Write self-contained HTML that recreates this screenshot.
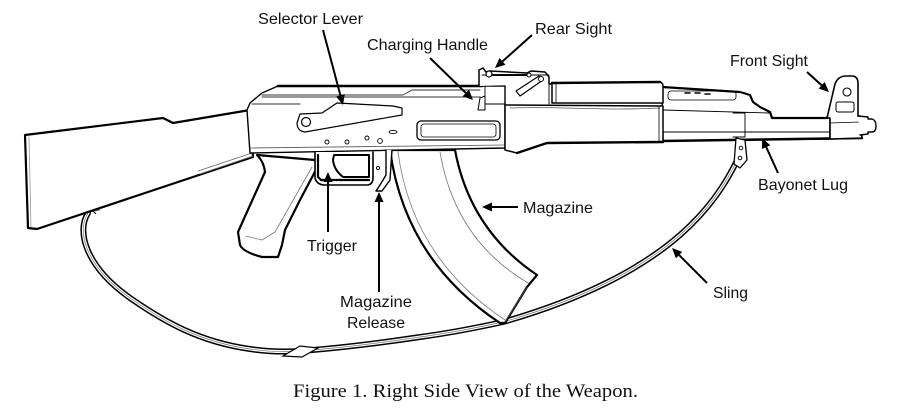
<!DOCTYPE html>
<html><head><meta charset="utf-8"><style>
html,body{margin:0;padding:0;background:#fff;}
svg{display:block;}
text{font-family:"Liberation Sans",Arial,sans-serif;font-size:16px;fill:#111;}
.cap{font-family:"Liberation Serif","Times New Roman",serif;font-size:19px;fill:#111;}
</style></head><body>
<svg width="900" height="420" viewBox="0 0 900 420" xmlns="http://www.w3.org/2000/svg">
<rect width="900" height="420" fill="#fff"/>

<!-- Sling -->
<g fill="none" stroke-linecap="round" stroke-linejoin="round">
<path d="M88,213 C76,232 86,268 133,300 C165,322 200,342 250,349 C270,352 285,352 300,351 C340,348 380,343 420,337 C450,333 480,327 503,322 C580,300 640,270 680,235 C705,213 725,188 742,150 L741,142" stroke="#000" stroke-width="6"/>
<path d="M88,213 C76,232 86,268 133,300 C165,322 200,342 250,349 C270,352 285,352 300,351 C340,348 380,343 420,337 C450,333 480,327 503,322 C580,300 640,270 680,235 C705,213 725,188 742,150 L741,142" stroke="#fff" stroke-width="3"/>
<path d="M88,213 C76,232 86,268 133,300 C165,322 200,342 250,349 C270,352 285,352 300,351 C340,348 380,343 420,337 C450,333 480,327 503,322 C580,300 640,270 680,235 C705,213 725,188 742,150" stroke="#777" stroke-width="0.7"/>
</g>
<path d="M283,356 L300,346 L318,348 L302,357 Z" fill="#fff" stroke="#000" stroke-width="1.2"/>
<path d="M68,214 L100,210" stroke="#888" stroke-width="1.5"/>
<path d="M84,216 L90,208 L96,214" fill="none" stroke="#000" stroke-width="1"/>

<g stroke="#000" stroke-linejoin="round" stroke-linecap="round">
<!-- Stock -->
<path d="M25,135 L163,118 L173,123 L250,110 L253,157 L37,229 L28,228 Z" fill="#fff" stroke-width="2.2"/>
<path d="M29,137 L31,227" fill="none" stroke="#999" stroke-width="0.8"/>
<path d="M198,171 L252,153 M200,174 L253,156" fill="none" stroke="#666" stroke-width="0.8"/>

<!-- Pistol grip -->
<path d="M257,155 L315,160 L318,166 L300,200 L285,230 L282,245 L278,257 L262,257 Q243,252 240,245 L238,232 L265,172 Q264,162 257,155 Z" fill="#fff" stroke-width="2.2"/>
<path d="M312,167 L275,232 L262,240 L246,236" fill="none" stroke="#777" stroke-width="0.8"/>

<!-- Magazine -->
<path d="M390,150 Q405,260 500,323 L505,323 L527,287 L537,275 Q470,230 455,150 Z" fill="#fff" stroke-width="2.2"/>
<path d="M398,152 Q412,258 505,320" fill="none" stroke="#777" stroke-width="0.8"/>
<path d="M440,152 Q455,240 528,283" fill="none" stroke="#777" stroke-width="0.8"/>
<path d="M527,287 L505,322" fill="none" stroke="#555" stroke-width="0.8"/>

<!-- Receiver -->
<path d="M247,110 L250,103 L262,93 L278,86 L505,86 L505,148 L250,153 Z" fill="#fff" stroke-width="1.4"/>
<path d="M278,86 L482,86" fill="none" stroke-width="2.6"/>
<path d="M262,95 L403,95 L412,90 L480,90 M262,97 L480,97 M252,104 L300,104" fill="none" stroke="#333" stroke-width="0.9"/>
<path d="M250,148 L505,145" fill="none" stroke="#555" stroke-width="0.8"/>
<!-- selector lever -->
<path d="M300,114 L322,113 L337,103 L393,106 L402,108 L402,115 L305,132 Q297,131 297,123 Z" fill="#fff" stroke-width="1.2"/>
<circle cx="306" cy="122" r="4.5" fill="#fff" stroke-width="1.2"/>
<!-- ejection port -->
<rect x="417" y="121" width="83" height="19" rx="4" fill="#fff" stroke-width="1.3"/>
<rect x="421" y="124" width="75" height="13" rx="3" fill="none" stroke-width="0.8"/>
<!-- holes -->
<g fill="#fff" stroke-width="0.9">
<circle cx="327" cy="142" r="2"/><circle cx="347" cy="142" r="2"/><circle cx="367" cy="138" r="2"/><circle cx="380" cy="141" r="2.4"/><circle cx="378" cy="168" r="1.6"/>
<ellipse cx="393" cy="132" rx="4" ry="1.6"/>
</g>
<!-- charging handle -->
<path d="M478,110 L480,98 L485,96 L485,110 Z" fill="#fff" stroke-width="1"/>

<!-- Trigger guard -->
<path d="M315,152 L315,178 Q317,185 325,185 L368,185 Q373,184 373,178 L373,152" fill="#fff" stroke-width="1.6"/>
<path d="M318,155 L318,177 L321,180 L369,180" fill="none" stroke-width="2.2"/>
<path d="M334,155 L369,155 L369,177 L343,177 Q334,170 333,160 Z" fill="#fff" stroke-width="2"/>
<!-- mag release -->
<path d="M386,150 L386,175 L380,185 L376,191 L382,191 L390,180 L392,150" fill="#fff" stroke-width="1.4"/>

<!-- Rear sight -->
<path d="M479,86 L479,70 L483,68 L486,72 L490,71 L527,73 L531,71 L545,72 L549,77 L549,84 L552,84" fill="#fff" stroke-width="1.5"/>
<path d="M482,75 L549,75" fill="none" stroke-width="0.9"/>
<path d="M493,75 L527,75" fill="none" stroke-width="2" stroke-dasharray="1.2,1.2"/>
<circle cx="489" cy="74" r="3" fill="#fff" stroke-width="1.2"/>
<circle cx="529" cy="75" r="2" fill="#fff" stroke-width="1"/>
<path d="M516,91 L539,76 L543,80 L520,96 Z" fill="#fff" stroke-width="1.2"/>
<circle cx="541" cy="79" r="2.5" fill="#fff" stroke-width="1"/>
<path d="M485,86 L485,104 L505,104 M549,84 L549,104" fill="none" stroke-width="0.9"/>

<!-- Gas section and barrel -->
<path d="M662,87 L740,92 L750,95 L753,102 L760,107 L770,112 L772,118 L830,118 L830,139 L663,141 Z" fill="#fff" stroke-width="1.4"/>
<path d="M662,87 L740,92 L750,95 L753,102 L760,107 L770,112 L772,118 L827,118" fill="none" stroke-width="2.2"/>
<rect x="668" y="91" width="68" height="9" rx="3" fill="none" stroke-width="0.8"/>
<path d="M685,93 L690,93 M695,93 L700,93 M705,94 L710,94" stroke-width="1.5"/>
<path d="M663,110 L770,113 M663,132 L830,132 M733,113 L745,113 L745,137 L733,137" fill="none" stroke-width="0.9"/>
<path d="M663,141 L862,138" fill="none" stroke-width="2.4"/>

<!-- Upper handguard -->
<path d="M552,83 L660,82 Q663,83 663,86 L663,103 L552,103 Z" fill="#fff" stroke-width="1.5"/>
<path d="M552,83 L660,82" fill="none" stroke-width="2.4"/>
<path d="M556,84 L556,102" fill="none" stroke-width="0.8"/>
<!-- Lower handguard -->
<path d="M505,105 L663,106 L663,142 L547,143 L517,153 L505,150 Z" fill="#fff" stroke-width="1.5"/>
<path d="M517,153 L547,143 L663,142" fill="none" stroke-width="2.4"/>
<path d="M510,108 C560,106 600,111 660,108" fill="none" stroke="#555" stroke-width="0.8"/>
<path d="M659,107 L659,141" fill="none" stroke-width="0.8"/>

<!-- Front sight -->
<path d="M827,118 L835,84 Q838,76 846,76 L853,76 Q858,77 858,83 L858,116 L860,116 L862,138 L830,139 L830,118 Z" fill="#fff" stroke-width="1.6"/>
<circle cx="847" cy="92" r="4" fill="#fff" stroke-width="1.1"/>
<rect x="836" y="102" width="18" height="10" rx="2" fill="none" stroke-width="1"/>
<path d="M830,123 L860,122" fill="none" stroke-width="0.8"/>
<path d="M858,116 L868,117 L868,119 L872,119 Q876,120 876,126 Q876,132 872,132 L868,132 L868,134 L860,135" fill="#fff" stroke-width="1.4"/>

<!-- Sling front end -->
<path d="M736,138 L745,140 L747,160 L740,168 L734,164 Z" fill="#fff" stroke-width="1.3"/>
<circle cx="741" cy="148" r="1.8" fill="#fff" stroke-width="0.9"/>
<circle cx="740" cy="158" r="1.8" fill="#fff" stroke-width="0.9"/>
</g>

<!-- Arrows -->
<g stroke="#000" stroke-width="2" fill="none">
<path d="M323,30 L340.4,95.3"/>
<path d="M430,58 L465.9,93"/>
<path d="M532,35 L502.5,61.4"/>
<path d="M807,72 L821.6,85.3"/>
<path d="M778,173 L766.2,147.1"/>
<path d="M518,207 L492,207"/>
<path d="M707,283 L679.1,255.1"/>
<path d="M328,232 L328,182"/>
<path d="M379,292 L379,202"/>
</g>
<g fill="#000">
<polygon points="343,105 336.07,96.49 344.77,94.17"/>
<polygon points="473,100 462.71,96.23 468.99,89.79"/>
<polygon points="495,68 499.47,57.99 505.45,64.71"/>
<polygon points="829,92 818.56,88.6 824.62,81.94"/>
<polygon points="762,138 770.25,145.22 762.07,148.96"/>
<polygon points="482,207 492,202.5 492,211.5"/>
<polygon points="672,248 682.25,251.89 675.89,258.25"/>
<polygon points="328,172 323.5,182 332.5,182"/>
<polygon points="379,192 374.5,202 383.5,202"/>
</g>

<!-- Labels -->
<text x="258" y="24" textLength="105" lengthAdjust="spacingAndGlyphs">Selector Lever</text>
<text x="367" y="50" textLength="121" lengthAdjust="spacingAndGlyphs">Charging Handle</text>
<text x="535" y="34" textLength="77" lengthAdjust="spacingAndGlyphs">Rear Sight</text>
<text x="730" y="66" textLength="78" lengthAdjust="spacingAndGlyphs">Front Sight</text>
<text x="758" y="190" textLength="90" lengthAdjust="spacingAndGlyphs">Bayonet Lug</text>
<text x="523" y="213" textLength="70" lengthAdjust="spacingAndGlyphs">Magazine</text>
<text x="713" y="298" textLength="35" lengthAdjust="spacingAndGlyphs">Sling</text>
<text x="307" y="251" textLength="50" lengthAdjust="spacingAndGlyphs">Trigger</text>
<text x="340" y="307" textLength="72" lengthAdjust="spacingAndGlyphs">Magazine</text>
<text x="347" y="328" textLength="58" lengthAdjust="spacingAndGlyphs">Release</text>
<text class="cap" x="293" y="397" textLength="345" lengthAdjust="spacingAndGlyphs">Figure 1.  Right Side View of the Weapon.</text>
</svg>
</body></html>
